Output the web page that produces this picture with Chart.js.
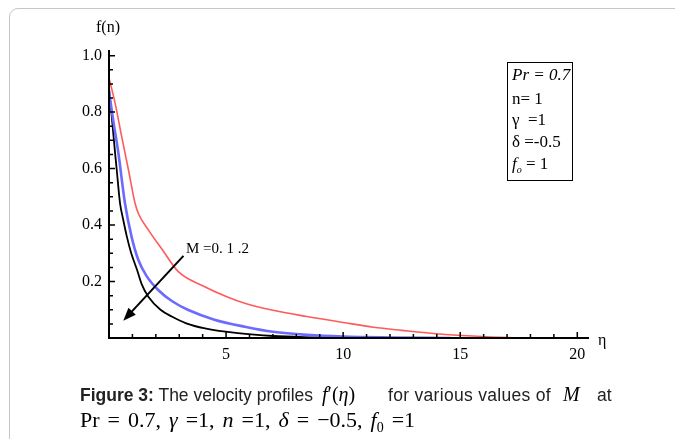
<!DOCTYPE html>
<html>
<head>
<meta charset="utf-8">
<script src="https://cdn.jsdelivr.net/npm/chart.js@4.4.1/dist/chart.umd.min.js"></script>
<style>
  body { margin: 0; width: 675px; height: 439px; overflow: hidden; position: relative; background: #fff; }
  .frame { position: absolute; left: 9px; top: 8px; width: 720px; height: 480px; border: 1.5px solid #c6c6c6; border-radius: 9px; }
  canvas { position: absolute; left: 0; top: 0; }
  .t { position: absolute; font-family: "Liberation Serif", serif; font-size: 16px; line-height: 1; color: #000; white-space: nowrap; }
  .box { position: absolute; left: 507px; top: 62px; width: 64px; height: 117px; border: 1.5px solid #000; }
  .box .t { left: 4px; font-size: 17px; }
  .cap { position: absolute; font-family: "Liberation Sans", Arial, sans-serif; font-size: 17.5px; line-height: 1; color: #222; white-space: nowrap; }
  .math { font-family: "Liberation Serif", serif; font-size: 20px; color: #000; }
</style>
</head>
<body>
<div class="frame"></div>
<canvas id="myChart" width="675" height="439"></canvas>

<div class="t" style="left:96px;top:19px">f(n)</div>
<div class="t" style="left:598px;top:332px">η</div>
<div class="t" style="left:186px;top:241px;font-size:15px">M =0. 1 .2</div>

<div class="box">
  <div class="t" style="top:3px;font-style:italic">Pr = 0.7</div>
  <div class="t" style="top:27px">n= 1</div>
  <div class="t" style="top:48px">γ &nbsp;=1</div>
  <div class="t" style="top:70px">δ =-0.5</div>
  <div class="t" style="top:92px"><i>f</i><sub style="font-size:10px"><i>o</i></sub> = 1</div>
</div>

<div class="cap" style="left:80px;top:387px"><b>Figure 3:</b> The velocity profiles</div>
<div class="cap math" style="left:322px;top:384px"><i>f</i>′(<i>η</i>)</div>
<div class="cap" style="left:388px;top:387px;letter-spacing:0.3px">for various values of</div>
<div class="cap math" style="left:563px;top:384px"><i>M</i></div>
<div class="cap" style="left:597px;top:387px">at</div>
<div class="cap math" style="left:80px;top:409px;font-size:22px;word-spacing:2.5px">Pr = 0.7, <i>γ</i> =1, <i>n</i> =1, <i>δ</i> = −0.5, <i>f</i><sub style="font-size:14px">0</sub> =1</div>

<script>
// velocity profiles f'(eta)
const etaM0 = [0, 0.26, 0.54, 0.83, 1.11, 1.25, 1.68, 2.3, 2.96, 4, 5.03, 5.8, 7, 8.45, 10, 11.3, 12.5, 14.1, 15.5, 17, 19.2];
const fM0 = [0.921, 0.832, 0.714, 0.596, 0.478, 0.442, 0.383, 0.31, 0.235, 0.185, 0.146, 0.123, 0.098, 0.076, 0.055, 0.038, 0.027, 0.014, 0.007, 0.002, 0];

const etaM1 = [0, 0.2, 0.4, 0.68, 0.96, 1.25, 1.6, 2.1, 2.7, 3.39, 4.5, 5.8, 7, 8.45, 10, 12, 14.6];
const fM1 = [0.873, 0.76, 0.655, 0.478, 0.36, 0.277, 0.22, 0.17, 0.13, 0.099, 0.065, 0.04, 0.022, 0.011, 0.005, 0.002, 0];

const etaM2 = [0, 0.1, 0.26, 0.33, 0.47, 0.61, 0.76, 0.95, 1.2, 1.4, 1.68, 2.2, 2.68, 3.3, 4.1, 5.5, 7, 9];
const fM2 = [0.885, 0.8, 0.655, 0.596, 0.478, 0.418, 0.36, 0.3, 0.241, 0.19, 0.146, 0.1, 0.076, 0.052, 0.034, 0.017, 0.007, 0.002];

const xTickLabels = [5, 10, 15, 20];
const yTickLabels = [0.2, 0.4, 0.6, 0.8, 1.0];

// arrow for "M = 0, 1, 2" (data coords)
const arrowFrom = [3.18, 0.291];
const arrowTo = [0.61, 0.061];

const toPoints = (xs, ys) => xs.map((x, i) => ({ x: x, y: ys[i] }));

// axes with ticks pointing inward, plus the arrow
const inwardAxes = {
  id: "inwardAxes",
  afterDatasetsDraw(chart) {
    const { ctx, scales } = chart;
    const x = scales.x, y = scales.y;
    const x0 = x.getPixelForValue(0);
    const y0 = y.getPixelForValue(0);
    ctx.save();
    ctx.strokeStyle = "#000";
    ctx.lineWidth = 2;
    ctx.beginPath();
    ctx.moveTo(x0, y.top);
    ctx.lineTo(x0, y0);
    ctx.lineTo(x.right, y0);
    ctx.stroke();

    ctx.lineWidth = 1.5;
    ctx.beginPath();
    for (let i = 1; i <= 20; i++) {
      const py = y.getPixelForValue(i * 0.05);
      const len = i % 4 === 0 ? 6 : 4;
      ctx.moveTo(x0, py);
      ctx.lineTo(x0 + len, py);
    }
    for (let i = 1; i <= 20; i++) {
      const px = x.getPixelForValue(i);
      const len = i % 5 === 0 ? 6 : 4;
      ctx.moveTo(px, y0);
      ctx.lineTo(px, y0 - len);
    }
    ctx.stroke();

    // arrow
    const ax = x.getPixelForValue(arrowFrom[0]), ay = y.getPixelForValue(arrowFrom[1]);
    const bx = x.getPixelForValue(arrowTo[0]), by = y.getPixelForValue(arrowTo[1]);
    const ang = Math.atan2(by - ay, bx - ax);
    ctx.lineWidth = 2;
    ctx.beginPath();
    ctx.moveTo(ax, ay);
    ctx.lineTo(bx - 8 * Math.cos(ang), by - 8 * Math.sin(ang));
    ctx.stroke();
    ctx.fillStyle = "#000";
    ctx.beginPath();
    ctx.moveTo(bx, by);
    ctx.lineTo(bx - 13 * Math.cos(ang) + 5 * Math.sin(ang), by - 13 * Math.sin(ang) - 5 * Math.cos(ang));
    ctx.lineTo(bx - 13 * Math.cos(ang) - 5 * Math.sin(ang), by - 13 * Math.sin(ang) + 5 * Math.cos(ang));
    ctx.closePath();
    ctx.fill();
    ctx.restore();
  },
};

const tickFont = { family: "Liberation Serif", size: 16 };

const chart = new Chart(document.getElementById("myChart").getContext("2d"), {
  type: "line",
  data: {
    datasets: [
      { label: "M = 0", data: toPoints(etaM0, fM0), borderColor: "#ff5a5a", borderWidth: 1.6 },
      { label: "M = 1", data: toPoints(etaM1, fM1), borderColor: "#6b6bff", borderWidth: 2.6 },
      { label: "M = 2", data: toPoints(etaM2, fM2), borderColor: "#000000", borderWidth: 1.8 },
    ],
  },
  options: {
    responsive: false,
    devicePixelRatio: 1,
    animation: false,
    layout: { padding: { left: 69, top: 50, right: 86, bottom: 71 } },
    elements: {
      point: { radius: 0 },
      line: { cubicInterpolationMode: "monotone", fill: false },
    },
    plugins: { legend: { display: false }, tooltip: { enabled: false } },
    scales: {
      x: {
        type: "linear",
        min: 0,
        max: 20.5,
        border: { display: false },
        grid: { display: false, drawTicks: false },
        afterBuildTicks: (s) => { s.ticks = xTickLabels.map((v) => ({ value: v })); },
        ticks: { color: "#000", font: tickFont, padding: 7, callback: (v) => String(v) },
        afterFit: (s) => { s.height = 30; },
      },
      y: {
        type: "linear",
        min: 0,
        max: 1.02,
        border: { display: false },
        grid: { display: false, drawTicks: false },
        afterBuildTicks: (s) => { s.ticks = yTickLabels.map((v) => ({ value: v })); },
        ticks: { color: "#000", font: tickFont, padding: 7, callback: (v) => v.toFixed(1) },
        afterFit: (s) => { s.width = 40; },
      },
    },
  },
  plugins: [inwardAxes],
});
</script>
</body>
</html>
